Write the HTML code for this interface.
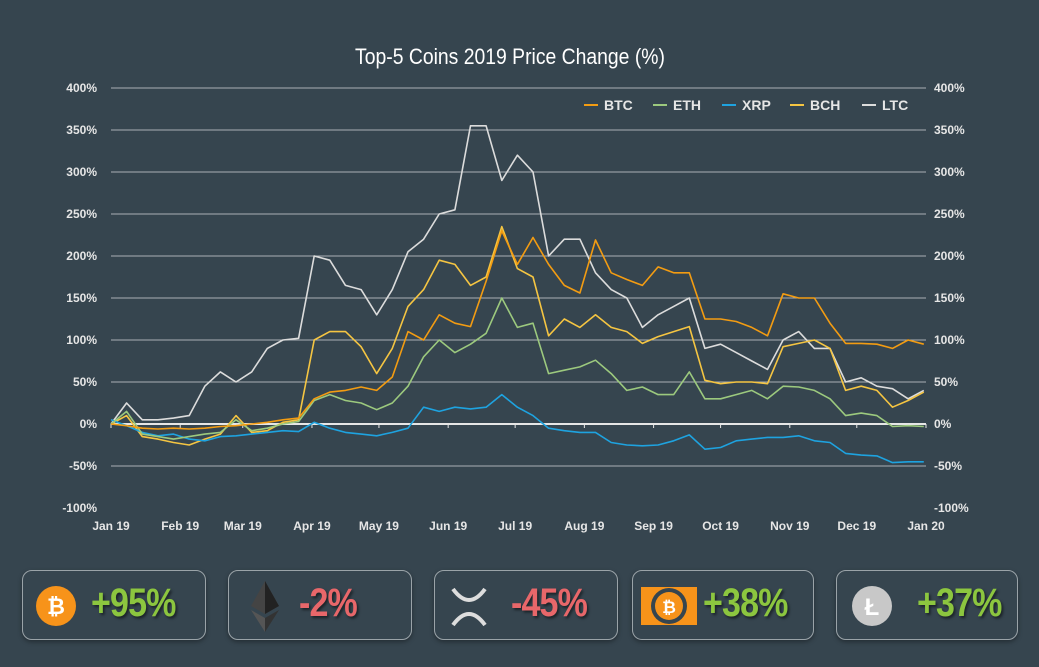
<!DOCTYPE html>
<html><head><meta charset="utf-8">
<style>
body{margin:0;background:#36454f;width:1039px;height:667px;overflow:hidden;font-family:"Liberation Sans",sans-serif;}
.card{position:absolute;top:570px;height:70px;border:1.5px solid #9aa3a8;border-radius:10px;box-sizing:border-box;box-shadow:0 2px 5px rgba(0,0,0,.35);}
.pct{position:absolute;top:10px;font-family:"Liberation Sans Narrow","Liberation Sans",sans-serif;font-stretch:condensed;font-weight:bold;font-size:40px;letter-spacing:-1px;text-shadow:2px 2px 3px rgba(0,0,0,.5);transform:scaleX(0.85);transform-origin:left;}
.g{color:#8cc63f}.r{color:#e8676a}
</style></head><body>
<svg id="chart" width="1039" height="560" style="position:absolute;left:0;top:0" xmlns="http://www.w3.org/2000/svg">
<text x="510" y="64" text-anchor="middle" fill="#fff" font-family="Liberation Sans Narrow, Liberation Sans, sans-serif" font-size="22" style="font-stretch:condensed" transform="translate(510 0) scale(0.88 1) translate(-510 0)">Top-5 Coins 2019 Price Change (%)</text>
<g id="grid"></g><g id="axes"></g><g id="series"></g><g id="legend"></g>
</svg>

<div class="card" style="left:22px;width:184px">
<svg style="position:absolute;left:12px;top:14px" width="42" height="42"><circle cx="21" cy="21" r="20" fill="#f7931a"/><text x="21" y="29" text-anchor="middle" fill="#fff" font-size="22" font-weight="bold" font-family="Liberation Sans">₿</text></svg>
<div class="pct g" style="left:68px">+95%</div></div>
<div class="card" style="left:228px;width:184px">
<svg style="position:absolute;left:16px;top:8px" width="40" height="56"><polygon points="20,2 6,27 20,35 34,27" fill="#444"/><polygon points="20,2 20,35 34,27" fill="#222"/><polygon points="6,31 20,53 20,39" fill="#555"/><polygon points="34,31 20,53 20,39" fill="#333"/></svg>
<div class="pct r" style="left:70px">-2%</div></div>
<div class="card" style="left:434px;width:184px">
<svg style="position:absolute;left:12px;top:14px" width="44" height="44"><path d="M6 4 Q22 26 38 4" stroke="#ddd" stroke-width="4" fill="none"/><path d="M6 40 Q22 18 38 40" stroke="#ddd" stroke-width="4" fill="none"/></svg>
<div class="pct r" style="left:76px">-45%</div></div>
<div class="card" style="left:632px;width:182px">
<svg style="position:absolute;left:8px;top:16px" width="56" height="38"><rect x="0" y="0" width="56" height="38" fill="#f7931a"/><circle cx="28" cy="19" r="18" fill="#36454f"/><circle cx="28" cy="19" r="14" fill="#f7931a"/><text x="28" y="26" text-anchor="middle" fill="#fff" font-size="17" font-weight="bold">₿</text></svg>
<div class="pct g" style="left:70px">+38%</div></div>
<div class="card" style="left:836px;width:182px">
<svg style="position:absolute;left:14px;top:14px" width="42" height="42"><circle cx="21" cy="21" r="20" fill="#c8c8c8"/><text x="21" y="30" text-anchor="middle" fill="#fff" font-size="24" font-weight="bold">Ł</text></svg>
<div class="pct g" style="left:80px">+37%</div></div>

<script>
const months=["Jan 19","Feb 19","Mar 19","Apr 19","May 19","Jun 19","Jul 19","Aug 19","Sep 19","Oct 19","Nov 19","Dec 19","Jan 20"];
const monthDays=[0,31,59,90,120,151,181,212,243,273,304,334,365];
const yTicks=[400,350,300,250,200,150,100,50,0,-50,-100];
const seriesNames=["BTC","ETH","XRP","BCH","LTC"];
const seriesColors=["#f39c12","#9cc97e","#1ea3e0","#f5c542","#dcdcdc"];
const btc=[0,-2,-5,-6,-5,-6,-5,-3,-2,0,2,5,7,30,38,40,44,40,56,110,100,130,120,116,170,230,190,222,190,165,156,219,180,172,165,187,180,180,125,125,122,115,105,155,150,150,120,96,96,95,90,100,95];
const eth=[0,15,-12,-15,-18,-15,-12,-10,5,-8,-5,0,3,28,35,28,25,17,25,45,80,100,85,95,108,150,115,120,60,64,68,76,60,40,44,35,35,62,30,30,35,40,30,45,44,40,30,10,13,10,-3,-2,-3];
const xrp=[5,-2,-10,-14,-12,-18,-20,-15,-14,-12,-10,-8,-9,2,-5,-10,-12,-14,-10,-5,20,15,20,18,20,35,20,10,-5,-8,-10,-10,-22,-25,-26,-25,-20,-13,-30,-28,-20,-18,-16,-16,-14,-20,-22,-35,-37,-38,-46,-45,-45];
const bch=[0,10,-15,-18,-22,-25,-18,-12,10,-10,-8,2,5,100,110,110,92,60,90,140,160,195,190,165,175,235,185,175,105,125,115,130,115,110,96,104,110,116,52,48,50,50,48,92,96,100,90,40,45,40,20,28,38];
const ltc=[0,25,5,5,7,10,45,62,50,62,90,100,102,200,195,165,160,130,160,205,220,250,255,355,355,290,320,300,200,220,220,180,160,150,115,130,140,150,90,95,85,75,65,100,110,90,90,50,55,45,42,30,40];
const allSeries=[btc,eth,xrp,bch,ltc];
const NS="http://www.w3.org/2000/svg";
const X0=111,X1=926,Y400=88,PX=0.84;
const xDay=d=>X0+d*(X1-X0)/365;
const yVal=v=>424-v*PX;
function mk(tag,attrs,parent){const e=document.createElementNS(NS,tag);for(const k in attrs)e.setAttribute(k,attrs[k]);parent.appendChild(e);return e;}
const grid=document.getElementById('grid'),axes=document.getElementById('axes'),ser=document.getElementById('series'),leg=document.getElementById('legend');
yTicks.forEach(t=>{
  if(t>-100){const l=mk('line',{x1:X0,x2:X1,y1:yVal(t),y2:yVal(t),stroke:t===0?'#e6e6e6':'#a9b0b4','stroke-width':t===0?2:1},grid);
  
  }
  const a=mk('text',{x:97,y:yVal(t)+4,'text-anchor':'end',fill:'#e6e6e6','font-size':12,'font-weight':'bold'},axes);a.textContent=t+'%';
  
  
  const b=mk('text',{x:934,y:yVal(t)+4,fill:'#e6e6e6','font-size':12,'font-weight':'bold'},axes);b.textContent=t+'%';
  
  
});
months.forEach((m,i)=>{
  const x=xDay(monthDays[i]);
  mk('line',{x1:x,x2:x,y1:424,y2:428,stroke:'#e6e6e6','stroke-width':1},grid);
  const t=mk('text',{x:x,y:530,'text-anchor':'middle',fill:'#e6e6e6','font-size':12,'font-weight':'bold'},axes);t.textContent=m;
  
  
});
[4,3,2,1,0].forEach(si=>{
  const d=allSeries[si].map((v,i)=>(i?'L':'M')+xDay(Math.min(i*7,365)).toFixed(1)+' '+yVal(v).toFixed(1)).join(' ');
  const p=mk('path',{d:d,fill:'none',stroke:seriesColors[si],'stroke-width':1.6,'stroke-linejoin':'round'},ser);
  
  
});
const legX=[584,653,722,790,862];
seriesNames.forEach((n,i)=>{
  const g=mk('g',{},leg);
  
  
  mk('line',{x1:legX[i],x2:legX[i]+14,y1:105,y2:105,stroke:seriesColors[i],'stroke-width':2},g);
  const t=mk('text',{x:legX[i]+20,y:110,fill:'#e6e6e6','font-size':14,'font-weight':'bold'},g);t.textContent=n;
});
</script>
</body></html>
